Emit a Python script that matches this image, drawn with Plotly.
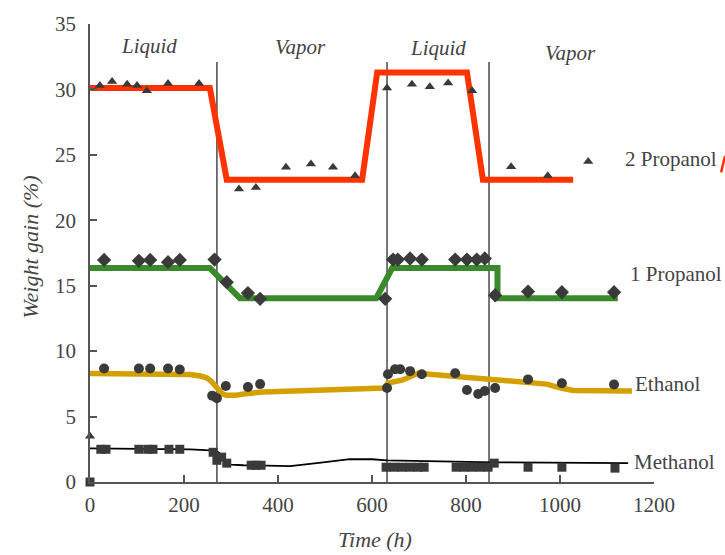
import plotly.graph_objects as go

# ---- phase boundaries (h) ----
phase_bounds = [270, 632, 849]
phase_names = ["Liquid", "Vapor", "Liquid", "Vapor"]
phase_label_x = [125, 447, 740, 1023]
phase_label_y = [33.3, 33.25, 33.2, 32.8]

# ---- 2 Propanol ----
p2_t = [0, 21, 47, 79, 100, 121, 166, 232, 317, 353, 417, 470, 517, 564,
        632, 685, 723, 762, 813, 896, 974, 1060]
p2_w = [3.5, 30.3, 30.6, 30.4, 30.3, 29.9, 30.45, 30.45, 22.4, 22.5, 24.05, 24.3, 24.05, 23.4,
        30.1, 30.4, 30.2, 30.5, 29.9, 24.1, 23.4, 24.5]
p2_fit_t = [0, 255, 291, 579, 611, 802, 836, 1028]
p2_fit_w = [30.1, 30.1, 23.1, 23.1, 31.3, 31.3, 23.1, 23.1]

# ---- 1 Propanol ----
p1_t = [30, 104, 128, 166, 191, 265, 291, 336, 362,
        628, 645, 655, 681, 706, 777, 802, 823, 840, 862, 932, 1004, 1115]
p1_w = [16.97, 16.9, 16.97, 16.8, 16.97, 17.0, 15.27, 14.44, 14.0,
        14.0, 17.0, 17.0, 17.08, 17.0, 17.0, 17.0, 17.0, 17.08, 14.27, 14.55, 14.5, 14.5]
p1_fit_t = [0, 255, 319, 609, 643, 867, 867, 1123]
p1_fit_w = [16.35, 16.35, 14.05, 14.05, 16.35, 16.35, 14.05, 14.05]

# ---- Ethanol ----
et_t = [30, 104, 128, 166, 191, 260, 270, 289, 336, 362,
        632, 634, 649, 660, 681, 706, 777, 802, 826, 840, 862, 932, 1004, 1115]
et_w = [8.67, 8.67, 8.67, 8.67, 8.6, 6.6, 6.4, 7.33, 7.26, 7.48,
        7.18, 8.24, 8.62, 8.62, 8.47, 8.24, 8.31, 7.03, 6.73, 6.95, 7.18, 7.84, 7.54, 7.45]
et_fit_t = [0, 150, 213, 235, 249, 258, 266, 274, 281, 290, 298, 310, 326, 368, 500,
            617, 626, 634, 664, 698, 772, 915, 972, 1000, 1028, 1153]
et_fit_w = [8.3, 8.25, 8.22, 8.1, 7.94, 7.7, 7.33, 6.98, 6.75, 6.62, 6.58, 6.62, 6.73, 6.88, 7.03,
            7.16, 7.18, 7.56, 7.78, 8.31, 8.08, 7.56, 7.48, 7.2, 7.0, 6.95]

# ---- Methanol ----
me_t = [0, 23, 34, 104, 123, 134, 168, 191, 262, 270, 280, 291, 343, 353, 364,
        630, 647, 664, 681, 698, 711, 779, 796, 813, 830, 847, 860, 932, 1004, 1117]
me_w = [0, 2.5, 2.5, 2.5, 2.5, 2.5, 2.5, 2.5, 2.27, 1.66, 1.9, 1.44, 1.28, 1.28, 1.28,
        1.13, 1.13, 1.13, 1.13, 1.13, 1.13, 1.13, 1.13, 1.13, 1.13, 1.13, 1.44, 1.13, 1.13, 1.06]
me_fit_t = [0, 213, 266, 272, 277, 281, 285, 289, 294, 300, 326, 426, 496, 553, 600, 632, 860, 1145]
me_fit_w = [2.57, 2.49, 2.4, 2.3, 2.15, 1.95, 1.7, 1.5, 1.38, 1.32, 1.28, 1.21, 1.5, 1.74, 1.74,
            1.66, 1.5, 1.44]

series_labels = ["2 Propanol", "1 Propanol", "Ethanol", "Methanol"]
series_label_x = [1134, 1145, 1155, 1153]
series_label_y = [24.7, 15.9, 7.5, 1.5]

INK = "#3a3a3a"
AXIS = "#555555"
SERIF = "Liberation Serif"

fig = go.Figure()

# fitted trend lines
fig.add_trace(go.Scatter(x=p2_fit_t, y=p2_fit_w, mode="lines",
                         line=dict(color="#ff3300", width=6)))
fig.add_trace(go.Scatter(x=p1_fit_t, y=p1_fit_w, mode="lines",
                         line=dict(color="#3a8a2c", width=6)))
fig.add_trace(go.Scatter(x=et_fit_t, y=et_fit_w, mode="lines",
                         line=dict(color="#d4a000", width=5.5)))
fig.add_trace(go.Scatter(x=me_fit_t, y=me_fit_w, mode="lines",
                         line=dict(color="#000000", width=1.8)))

# measured points
fig.add_trace(go.Scatter(x=p2_t, y=p2_w, mode="markers", cliponaxis=False,
                         marker=dict(symbol="triangle-up", size=9, color=INK)))
fig.add_trace(go.Scatter(x=p1_t, y=p1_w, mode="markers", cliponaxis=False,
                         marker=dict(symbol="diamond", size=11, color=INK)))
fig.add_trace(go.Scatter(x=et_t, y=et_w, mode="markers", cliponaxis=False,
                         marker=dict(symbol="circle", size=10, color=INK)))
fig.add_trace(go.Scatter(x=me_t, y=me_w, mode="markers", cliponaxis=False,
                         marker=dict(symbol="square", size=9, color=INK)))

# phase boundary lines
for b in phase_bounds:
    fig.add_shape(type="line", xref="x", yref="y", x0=b, x1=b, y0=-0.3, y1=32.1,
                  line=dict(color=AXIS, width=1.6), layer="below")

annotations = []
for name, x, y in zip(phase_names, phase_label_x, phase_label_y):
    annotations.append(dict(x=x, y=y, xref="x", yref="y", text=f"<i>{name}</i>",
                            xanchor="center", yanchor="middle",
                            showarrow=False, font=dict(family=SERIF, size=21, color="#444")))
for name, x, y in zip(series_labels, series_label_x, series_label_y):
    annotations.append(dict(x=x, y=y, xref="x", yref="y", text=name,
                            xanchor="left", yanchor="middle",
                            showarrow=False, font=dict(family=SERIF, size=21, color="#444")))
annotations.append(dict(x=-0.106, y=0.512, xref="paper", yref="paper",
                        xanchor="center", yanchor="middle",
                        text="<i>Weight gain (%)</i>", textangle=-90, showarrow=False,
                        font=dict(family=SERIF, size=22, color="#444")))
annotations.append(dict(x=0.505, y=-0.125, xref="paper", yref="paper",
                        xanchor="center", yanchor="middle",
                        text="<i>Time (h)</i>", showarrow=False,
                        font=dict(family=SERIF, size=22, color="#444")))

# small red stroke at the right edge
fig.add_shape(type="line", xref="paper", yref="paper", x0=1.119, y0=0.676, x1=1.126, y1=0.712,
              line=dict(color="#ff3300", width=2.5))

fig.update_layout(
    width=725, height=555,
    margin=dict(l=90, r=71, t=19, b=73),
    paper_bgcolor="white", plot_bgcolor="white",
    showlegend=False,
    annotations=annotations,
    xaxis=dict(range=[0, 1200], tickvals=[0, 200, 400, 600, 800, 1000, 1200],
               showgrid=False, zeroline=False, showline=True, linecolor=AXIS, linewidth=1.8,
               ticks="inside", ticklen=7, tickwidth=1.5, tickcolor=AXIS, ticklabelstandoff=3,
               tickfont=dict(family=SERIF, size=21, color="#444")),
    yaxis=dict(range=[0, 35], tickvals=[0, 5, 10, 15, 20, 25, 30, 35],
               showgrid=False, zeroline=False, showline=True, linecolor=AXIS, linewidth=1.8,
               ticks="inside", ticklen=7, tickwidth=1.5, tickcolor=AXIS, ticklabelstandoff=8,
               tickfont=dict(family=SERIF, size=21, color="#444")),
)

fig.write_html("out.html")
